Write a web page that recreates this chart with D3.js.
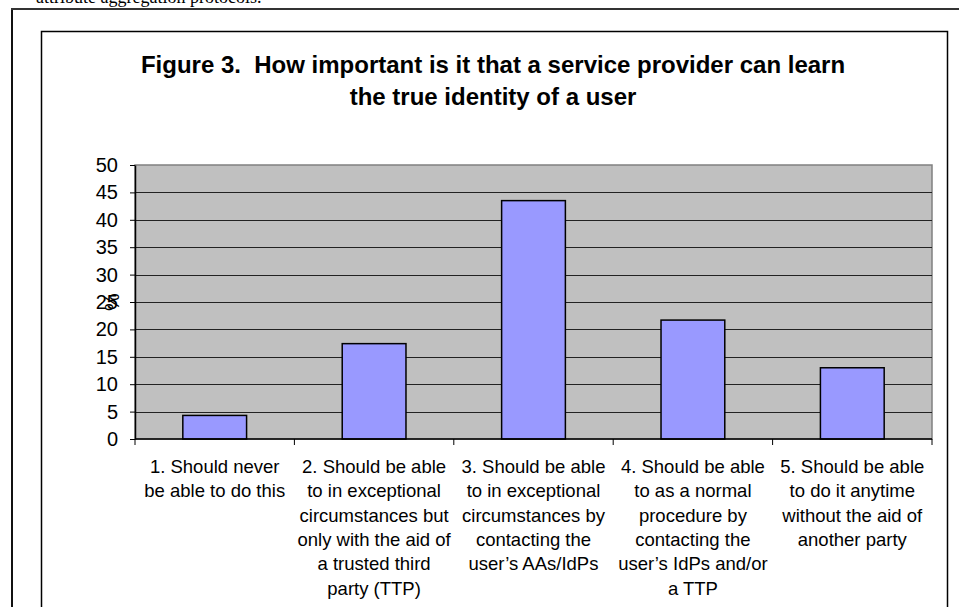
<!DOCTYPE html>
<html>
<head>
<meta charset="utf-8">
<script src="https://cdn.jsdelivr.net/npm/d3@7"></script>
<style>
  body { margin: 0; background: #fff; }
  svg { display: block; }
</style>
</head>
<body>
<div id="chart"></div>
<script>
// Chart data (percent of respondents)
const categories = ["1", "2", "3", "4", "5"];
const values = [4.3, 17.4, 43.5, 21.7, 13.0];
const categoryLines = [
    ["1. Should never", "be able to do this"],
    ["2. Should be able", "to in exceptional", "circumstances but", "only with the aid of", "a trusted third", "party (TTP)"],
    ["3. Should be able", "to in exceptional", "circumstances by", "contacting the", "user\u2019s AAs/IdPs"],
    ["4. Should be able", "to as a normal", "procedure by", "contacting the", "user\u2019s IdPs and/or", "a TTP"],
    ["5. Should be able", "to do it anytime", "without the aid of", "another party"]
];
const yTicks = [0, 5, 10, 15, 20, 25, 30, 35, 40, 45, 50];
const titleLines = ["Figure 3.  How important is it that a service provider can learn", "the true identity of a user"];

const width = 959, height = 607;
const margin = { top: 165, right: 27, bottom: 168, left: 135 };
const plotW = width - margin.left - margin.right;
const plotH = height - margin.top - margin.bottom;
const sans = "Liberation Sans, Arial, sans-serif";

const svg = d3.select("#chart")
    .append("svg")
    .attr("width", width)
    .attr("height", height);

// text of the page above the figure (cut off at top)
svg.append("text")
    .attr("x", 36)
    .attr("y", 3)
    .attr("font-family", "Liberation Serif, Times New Roman, serif")
    .attr("font-size", 18)
    .text("attribute aggregation protocols.");

// page frame (left and top edges)
svg.append("line")
    .attr("x1", 12).attr("x2", 12)
    .attr("y1", 8).attr("y2", height)
    .attr("stroke", "#111")
    .attr("stroke-width", 2);
svg.append("line")
    .attr("x1", 11).attr("x2", width)
    .attr("y1", 9).attr("y2", 9)
    .attr("stroke", "#333")
    .attr("stroke-width", 2);

// chart area border
svg.append("rect")
    .attr("x", 41.5).attr("y", 31.5)
    .attr("width", 906).attr("height", 600)
    .attr("fill", "#fff")
    .attr("stroke", "#000")
    .attr("stroke-width", 1.5);

// title
svg.append("text")
    .attr("font-family", sans)
    .attr("font-weight", "bold")
    .attr("font-size", 24)
    .attr("text-anchor", "middle")
    .style("white-space", "pre")
    .selectAll("tspan")
    .data(titleLines)
    .join("tspan")
    .attr("x", 493)
    .attr("y", (d, i) => 73 + i * 32)
    .text(d => d);

const g = svg.append("g")
    .attr("transform", `translate(${margin.left},${margin.top})`);

const x = d3.scaleBand()
    .domain(categories)
    .range([0, plotW])
    .paddingInner(0.6)
    .paddingOuter(0.3);

const xOuter = d3.scaleBand()
    .domain(categories)
    .range([0, plotW]);

const y = d3.scaleLinear()
    .domain([0, 50])
    .range([plotH, 0]);

// plot background
g.append("rect")
    .attr("width", plotW)
    .attr("height", plotH)
    .attr("fill", "#c0c0c0")
    .attr("stroke", "#808080")
    .attr("stroke-width", 1.5);

// gridlines
g.append("g")
    .selectAll("line")
    .data(yTicks.filter(t => t > 0 && t < 50))
    .join("line")
    .attr("x1", 0)
    .attr("x2", plotW)
    .attr("y1", d => Math.round(y(d)) + 0.5)
    .attr("y2", d => Math.round(y(d)) + 0.5)
    .attr("stroke", "#222")
    .attr("stroke-width", 1);

// bars
g.append("g")
    .selectAll("rect")
    .data(values)
    .join("rect")
    .attr("x", (d, i) => x(categories[i]))
    .attr("y", d => y(d))
    .attr("width", x.bandwidth())
    .attr("height", d => plotH - y(d))
    .attr("fill", "#9999ff")
    .attr("stroke", "#000")
    .attr("stroke-width", 1.5);

// y axis
const yAxis = g.append("g")
    .call(d3.axisLeft(y).tickValues(yTicks).tickSize(5).tickPadding(12).tickSizeOuter(0));
yAxis.select(".domain").attr("stroke", "#000").attr("stroke-width", 1.5);
yAxis.selectAll(".tick line").attr("stroke", "#000");
yAxis.selectAll("text")
    .attr("font-family", sans)
    .attr("font-size", 20)
    .attr("fill", "#000");

// x axis with ticks at category boundaries
const xAxisG = g.append("g")
    .attr("transform", `translate(0,${plotH})`);
xAxisG.append("line")
    .attr("x1", 0).attr("x2", plotW)
    .attr("stroke", "#000")
    .attr("stroke-width", 1.5);
xAxisG.selectAll(".bt")
    .data(categories.concat(["end"]))
    .join("line")
    .attr("class", "bt")
    .attr("x1", (d, i) => i < categories.length ? xOuter(d) : plotW)
    .attr("x2", (d, i) => i < categories.length ? xOuter(d) : plotW)
    .attr("y1", 0).attr("y2", 6)
    .attr("stroke", "#000");

// category labels
const lbl = xAxisG.selectAll(".cl")
    .data(categoryLines)
    .join("text")
    .attr("class", "cl")
    .attr("font-family", sans)
    .attr("font-size", 18.5)
    .attr("text-anchor", "middle")
    .attr("fill", "#000");
lbl.selectAll("tspan")
    .data((d, i) => d.map(t => ({ t, i })))
    .join("tspan")
    .attr("x", d => xOuter(categories[d.i]) + xOuter.bandwidth() / 2)
    .attr("y", (d, j) => 34 + j * 24.3)
    .text(d => d.t);

// y axis title
svg.append("text")
    .attr("transform", "translate(119,302) rotate(-90)")
    .attr("font-family", sans)
    .attr("font-size", 20)
    .attr("text-anchor", "middle")
    .text("%");
</script>
</body>
</html>
